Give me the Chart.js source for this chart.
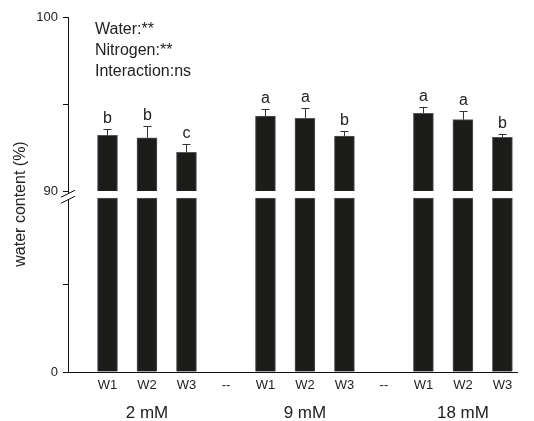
<!DOCTYPE html>
<html>
<head>
<meta charset="utf-8">
<script src="https://cdn.jsdelivr.net/npm/chart.js@4.4.0/dist/chart.umd.min.js"></script>
<style>
  body { margin: 0; background: #fff; }
  #wrap { width: 534px; height: 421px; position: relative; }
</style>
</head>
<body>
<div id="wrap"><canvas id="chart"></canvas></div>
<script>
// Water content by water level (W1-W3) within nitrogen groups, broken y axis
const categories = ['W1', 'W2', 'W3', '--', 'W1', 'W2', 'W3', '--', 'W1', 'W2', 'W3'];
const groupLabels = ['2 mM', '9 mM', '18 mM'];
const groupCenters = [2, 6, 10];
const means = [93.2, 93.06, 92.22, null, 94.31, 94.18, 93.16, null, 94.47, 94.1, 93.09];
const errors = [0.36, 0.68, 0.48, null, 0.39, 0.57, 0.31, null, 0.38, 0.5, 0.17];
const letters = ['b', 'b', 'c', '', 'a', 'a', 'b', '', 'a', 'a', 'b'];
const lowerTicks = [0, 45];
const upperTicks = [90, 95, 100];
const notes = ['Water:**', 'Nitrogen:**', 'Interaction:ns'];

const BAR = '#1c1d1a';
const INK = '#222222';
const FONT = 'Arial, "Liberation Sans", sans-serif';

const upperData = [];
const lowerData = [];
means.forEach((m, i) => {
  if (m === null) return;
  upperData.push({ x: i + 1, y: [90, m] });
  lowerData.push({ x: i + 1, y: [0, 90] });
});

const extras = {
  id: 'extras',
  afterDraw(chart) {
    const { ctx, scales } = chart;
    const xs = scales.x, yu = scales.yU, yl = scales.yL;
    ctx.save();

    // error bars and letters
    ctx.strokeStyle = '#333';
    ctx.lineWidth = 1;
    ctx.fillStyle = INK;
    ctx.font = '16px ' + FONT;
    ctx.textAlign = 'center';
    ctx.textBaseline = 'alphabetic';
    means.forEach((m, i) => {
      if (m === null) return;
      const x = Math.round(xs.getPixelForValue(i + 1)) + 0.5;
      const y0 = yu.getPixelForValue(m);
      const y1 = Math.round(yu.getPixelForValue(m + errors[i])) + 0.5;
      ctx.beginPath();
      ctx.moveTo(x, y0);
      ctx.lineTo(x, y1);
      ctx.moveTo(x - 4, y1);
      ctx.lineTo(x + 4, y1);
      ctx.stroke();
      ctx.fillText(letters[i], x, y1 - 7);
    });

    // axis break
    const ax = yu.right;
    const yb = (yu.bottom + yl.getPixelForValue(90)) / 2;
    ctx.fillStyle = '#fff';
    ctx.fillRect(ax - 2, yb - 3, 4, 6);
    ctx.strokeStyle = '#111';
    ctx.beginPath();
    ctx.moveTo(ax - 7, yb + 1);
    ctx.lineTo(ax + 7, yb - 6);
    ctx.moveTo(ax - 7, yb + 7);
    ctx.lineTo(ax + 7, yb);
    ctx.stroke();

    // group labels
    ctx.fillStyle = INK;
    ctx.font = '17px ' + FONT;
    ctx.textBaseline = 'middle';
    groupLabels.forEach((g, i) => {
      ctx.fillText(g, xs.getPixelForValue(groupCenters[i]), 413);
    });

    // notes
    ctx.textAlign = 'left';
    ctx.textBaseline = 'alphabetic';
    ctx.font = '16px ' + FONT;
    notes.forEach((t, i) => ctx.fillText(t, 95, 34 + i * 21));

    // y title
    ctx.translate(21, 204);
    ctx.rotate(-Math.PI / 2);
    ctx.textAlign = 'center';
    ctx.textBaseline = 'middle';
    ctx.fillText('water content (%)', 0, 0);
    ctx.restore();
  }
};

const yCommon = {
  type: 'linear',
  position: 'left',
  stack: 'y',
  stackWeight: 1,
  grid: { drawOnChartArea: false, drawTicks: true, tickLength: 5, color: '#111' },
  border: { display: true, color: '#111', width: 1 },
  ticks: { color: INK, font: { family: FONT, size: 13 }, padding: 5 },
  afterFit(scale) { scale.width = 68; }
};

new Chart(document.getElementById('chart'), {
  type: 'bar',
  data: {
    datasets: [
      { data: upperData, yAxisID: 'yU', backgroundColor: BAR, borderColor: '#555', borderWidth: 1, barThickness: 20, grouped: false },
      { data: lowerData, yAxisID: 'yL', backgroundColor: BAR, borderColor: '#555', borderWidth: 1, barThickness: 20, grouped: false }
    ]
  },
  options: {
    responsive: true,
    maintainAspectRatio: false,
    animation: false,
    layout: { padding: { top: 17, right: 17, left: 0, bottom: 0 } },
    plugins: { legend: { display: false }, tooltip: { enabled: false } },
    scales: {
      x: {
        type: 'linear',
        min: 0,
        max: 11.37,
        offset: false,
        grid: { display: false, drawTicks: false },
        border: { display: true, color: '#111', width: 1 },
        ticks: {
          color: INK,
          font: { family: FONT, size: 13 },
          padding: 6,
          autoSkip: false,
          maxRotation: 0,
          callback: (v) => categories[v - 1]
        },
        afterBuildTicks(scale) {
          scale.ticks = categories.map((c, i) => ({ value: i + 1 }));
        },
        afterFit(scale) { scale.height = 49; }
      },
      yL: Object.assign({}, yCommon, {
        min: 0,
        max: 91.81,
        afterBuildTicks(scale) {
          scale.ticks = lowerTicks.map(v => ({ value: v }));
        },
        ticks: Object.assign({}, yCommon.ticks, { callback: (v) => (v === 0 ? '0' : '') })
      }),
      yU: Object.assign({}, yCommon, {
        min: 89.8,
        max: 100,
        afterBuildTicks(scale) {
          scale.ticks = upperTicks.map(v => ({ value: v }));
        },
        ticks: Object.assign({}, yCommon.ticks, { callback: (v) => (v === 95 ? '' : String(v)) })
      })
    }
  },
  plugins: [extras]
});
</script>
</body>
</html>
